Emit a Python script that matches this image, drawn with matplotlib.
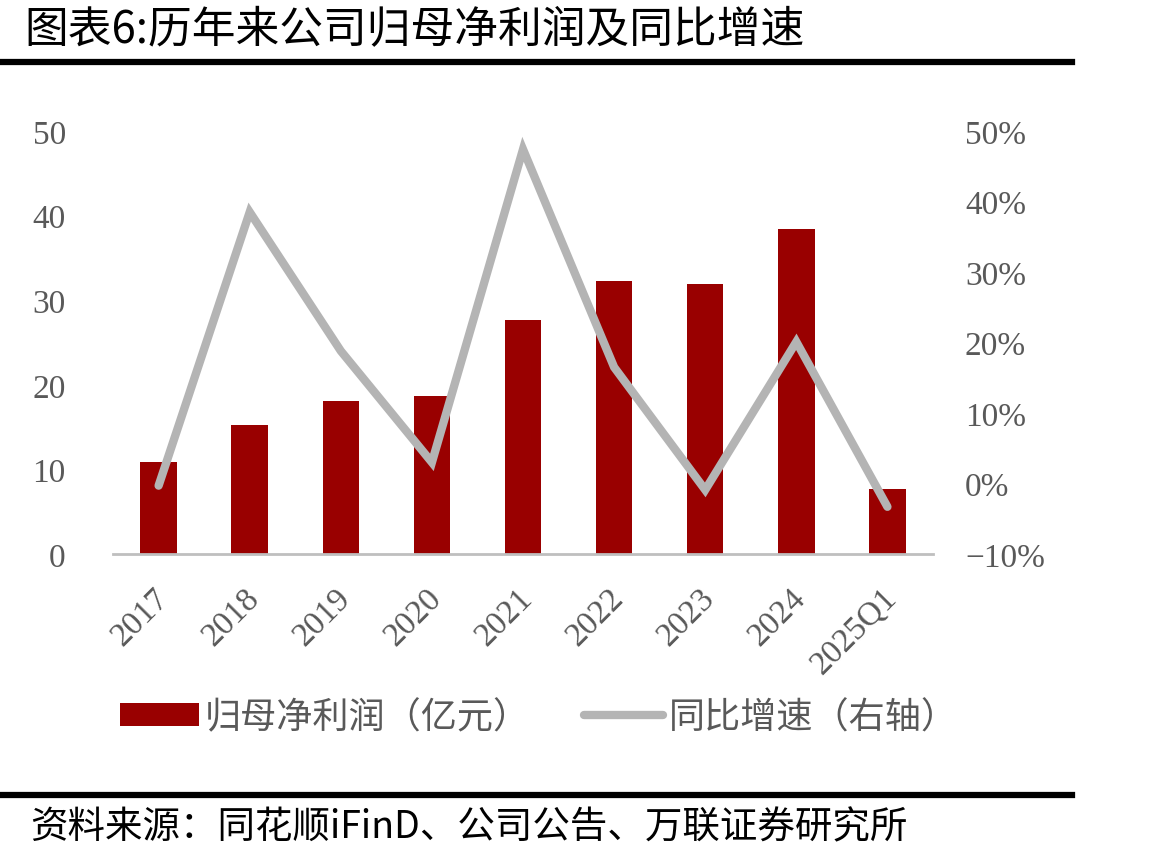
import matplotlib
matplotlib.use("Agg")
import matplotlib.pyplot as plt
import matplotlib.transforms as mtransforms
from matplotlib.lines import Line2D
from matplotlib.patches import Patch
from matplotlib.ticker import FuncFormatter

# data
years = ["2017", "2018", "2019", "2020", "2021", "2022", "2023", "2024", "2025Q1"]
profit = [10.9, 15.2, 18.1, 18.7, 27.7, 32.3, 31.9, 38.4, 7.7]      # 亿元
growth = [-0.3, 38.5, 18.8, 3.0, 47.4, 16.5, -0.9, 20.1, -3.3]      # %

BAR_RED = "#990000"
LINE_GRAY = "#b4b4b4"
TICK_GRAY = "#595959"
CJK = ["Noto Sans CJK SC", "DejaVu Sans"]
NUM = ["Liberation Serif", "DejaVu Serif"]

fig = plt.figure(figsize=(11.74, 8.62), dpi=100)
fig.patch.set_facecolor("white")

ax = fig.add_axes([0.0963, 0.3561, 0.6984, 0.4908])
ax2 = ax.twinx()

x = list(range(len(years)))
ax.bar(x, profit, width=0.4, color=BAR_RED, zorder=2)
ax2.plot(x, growth, color=LINE_GRAY, linewidth=6, solid_capstyle="round",
         solid_joinstyle="miter", zorder=3)

ax.set_xlim(-0.5, len(years) - 0.5)
ax.set_ylim(0, 50)
ax.set_yticks([0, 10, 20, 30, 40, 50])
ax2.set_ylim(-10, 50)
ax2.set_yticks([-10, 0, 10, 20, 30, 40, 50])
ax2.yaxis.set_major_formatter(FuncFormatter(lambda v, p: f"{int(v)}%".replace("-", "\u2212")))

for a in (ax, ax2):
    for s in ("top", "right", "left", "bottom"):
        a.spines[s].set_visible(False)
    a.tick_params(length=0, labelsize=24, labelcolor=TICK_GRAY)
    for lab in a.get_yticklabels():
        lab.set_family(NUM)

ax.spines["bottom"].set_visible(True)
ax.spines["bottom"].set_color("#bfbfbf")
ax.spines["bottom"].set_linewidth(2)
ax.tick_params(axis="y", pad=34)
ax2.tick_params(axis="y", pad=23)

ax.set_xticks(x)
ax.set_xticklabels(years, rotation=45, ha="right", va="top", rotation_mode="anchor",
                   family=NUM, fontsize=24, color=TICK_GRAY)
ax.tick_params(axis="x", pad=20)
shift = mtransforms.ScaledTranslation(-0.06, 0, fig.dpi_scale_trans)
for lab in ax.get_xticklabels():
    lab.set_transform(lab.get_transform() + shift)

# legend
handles = [Patch(facecolor=BAR_RED, edgecolor="none"),
           Line2D([0], [0], color=LINE_GRAY, linewidth=6, solid_capstyle="round")]
fig.legend(handles, ["归母净利润（亿元）", "同比增速（右轴）"],
           loc="center left", bbox_to_anchor=(0.102, 0.167), ncol=2, frameon=False,
           prop={"family": CJK, "size": 26}, labelcolor=TICK_GRAY,
           borderpad=0, borderaxespad=0,
           handlelength=2.2, handleheight=0.6, handletextpad=0.15, columnspacing=1.5)

# title and footer
fig.text(0.021, 0.965, "图表6:历年来公司归母净利润及同比增速", family=CJK, fontsize=31.5,
         ha="left", va="center", color="black")
fig.add_artist(Line2D([0, 0.913], [0.927, 0.927], color="black", linewidth=4.5))
fig.add_artist(Line2D([0, 0.913], [0.077, 0.077], color="black", linewidth=4.5))
fig.text(0.026, 0.039, "资料来源：同花顺iFinD、公司公告、万联证券研究所", family=CJK,
         fontsize=27, style="italic", ha="left", va="center", color="black")

fig.savefig("out.png", dpi=100)
